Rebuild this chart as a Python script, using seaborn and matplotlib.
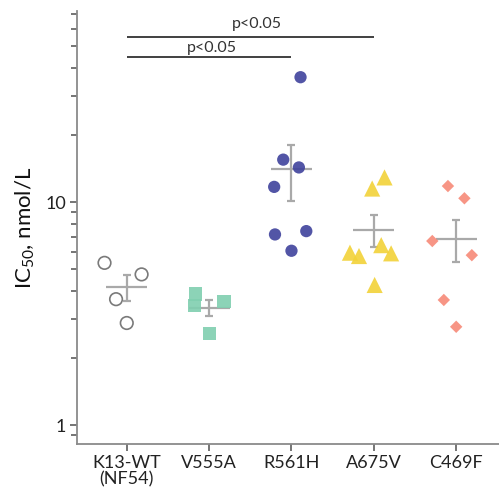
"""IC50 values per K13 genotype, mean +/- SEM, log scale"""
import numpy as np
import pandas as pd
import seaborn as sns
import matplotlib.pyplot as plt

# genotypes and IC50 values (nmol/L)
labels = ["K13-WT\n(NF54)", "V555A", "R561H", "A675V", "C469F"]
k13_wt = [5.34, 4.74, 3.67, 2.87]
v555a = [3.87, 3.45, 3.57, 2.57]
r561h = [36.3, 15.5, 14.3, 11.7, 7.16, 7.41, 6.05]
a675v = [12.9, 11.5, 5.93, 5.73, 6.41, 5.89, 4.25]
c469f = [11.8, 10.4, 6.69, 5.78, 3.64, 2.76]
groups = [k13_wt, v555a, r561h, a675v, c469f]

# horizontal scatter of each point inside its column (category units)
jitter = [
    [-0.27, 0.18, -0.13, 0.0],
    [-0.17, -0.18, 0.18, 0.0],
    [0.11, -0.10, 0.09, -0.21, -0.20, 0.18, 0.0],
    [0.13, -0.02, -0.29, -0.18, 0.09, 0.21, 0.01],
    [-0.10, 0.10, -0.29, 0.19, -0.15, 0.0],
]

markers = ["o", "s", "o", "^", "D"]
sizes = [82, 90, 78, 135, 40]
colors = ["none", "#80cfb0", "#3f429c", "#f2d238", "#f78a78"]

sns.set_style("white")
plt.rcParams["font.family"] = ["Lato", "DejaVu Sans"]
plt.rcParams["mathtext.fontset"] = "custom"
plt.rcParams["mathtext.rm"] = "Lato"
plt.rcParams["mathtext.it"] = "Lato"

rows = []
for i, vals in enumerate(groups):
    for v, dx in zip(vals, jitter[i]):
        rows.append({"group": i, "x": i + dx, "ic50": v})
df = pd.DataFrame(rows)

fig = plt.figure(figsize=(4.99, 4.94), dpi=100)
ax = fig.add_axes([0.155, 0.101, 0.845, 0.877])

# mean +/- SEM in grey
grey = "#a9a9a9"
for i, vals in enumerate(groups):
    arr = np.array(vals)
    m = arr.mean()
    se = arr.std(ddof=1) / np.sqrt(len(arr))
    ax.hlines(m, i - 0.25, i + 0.25, color=grey, lw=1.6, zorder=2)
    ax.errorbar(i, m, yerr=se, color=grey, lw=1.6, capsize=3, capthick=1.6, zorder=2)

for i in range(len(groups)):
    sub = df[df["group"] == i]
    if i == 0:
        sns.scatterplot(data=sub, x="x", y="ic50", marker="o", s=sizes[i],
                        facecolor="none", edgecolor="#7a7a7a", linewidth=1.2,
                        ax=ax, zorder=3)
    else:
        sns.scatterplot(data=sub, x="x", y="ic50", marker=markers[i], s=sizes[i],
                        color=colors[i], edgecolor="none", linewidth=0, alpha=0.9,
                        ax=ax, zorder=3)

ax.set_yscale("log")
ax.set_ylim(0.822, 72)
ax.set_xlim(-0.6, 4.52)
ax.set_yticks([1, 10])
ax.set_yticklabels(["1", "10"])
ax.set_xticks(range(len(labels)))
ax.set_xticklabels(labels, linespacing=1.0)
ax.set_xlabel("")
ax.set_ylabel("IC$_{50}$, nmol/L", fontsize=16, color="#111111", labelpad=6)

spine_col = "#8a8a8a"
for s in ["top", "right"]:
    ax.spines[s].set_visible(False)
for s in ["left", "bottom"]:
    ax.spines[s].set_color(spine_col)
    ax.spines[s].set_linewidth(1.3)
ax.tick_params(axis="both", which="major", direction="out", length=5, width=1.3,
               color="#6a6a6a", labelsize=13, labelcolor="#222222", pad=3,
               left=True, bottom=True)
ax.tick_params(axis="y", which="minor", direction="out", length=4, width=1.3,
               color="#6a6a6a", left=True)

# significance bars
bar_col = "#404040"
ax.hlines(44.8, 0, 2, color=bar_col, lw=1.4)
ax.hlines(55.1, 0, 3, color=bar_col, lw=1.4)
ax.text(1.03, 47.2, "p<0.05", ha="center", va="baseline", fontsize=11.5, color="#333333")
ax.text(1.58, 60.3, "p<0.05", ha="center", va="baseline", fontsize=11.5, color="#333333")

plt.savefig("out.png", dpi=100)
plt.close()
